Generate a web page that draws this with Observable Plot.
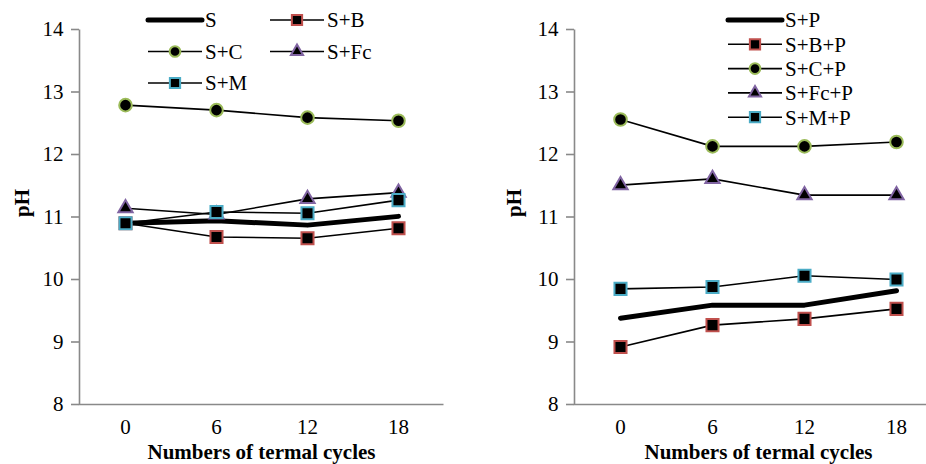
<!DOCTYPE html>
<html>
<head>
<meta charset="utf-8">
<script src="https://cdn.jsdelivr.net/npm/d3@7"></script>
<script src="https://cdn.jsdelivr.net/npm/@observablehq/plot@0.6"></script>
<style>
  html, body { margin: 0; padding: 0; background: #fff; overflow: hidden; }
  #wrap { position: relative; width: 926px; height: 464px; overflow: hidden; background: #fff;
          font-family: 'Liberation Serif', 'Times New Roman', serif; }
  #left, #right { position: absolute; top: 0; }
  #left { left: 0; width: 463px; }
  #right { left: 463px; width: 479px; }
  #wrap svg { max-width: none !important; overflow: visible; font-family: 'Liberation Serif', 'Times New Roman', serif !important; }
  #wrap svg text { font-family: 'Liberation Serif', 'Times New Roman', serif; }
</style>
</head>
<body>
<div id="wrap">
  <div id="left"></div>
  <div id="right"></div>
</div>
<script>
// ---- data ----
const cycles = ["0", "6", "12", "18"];
const yTicks = [8, 9, 10, 11, 12, 13, 14];

const leftNames = ["S", "S+B", "S+C", "S+Fc", "S+M"];
const S    = [10.90, 10.94, 10.87, 11.01];
const S_B  = [10.90, 10.68, 10.66, 10.82];
const S_C  = [12.79, 12.71, 12.59, 12.54];
const S_Fc = [11.14, 11.04, 11.29, 11.39];
const S_M  = [10.90, 11.08, 11.06, 11.27];

const rightNames = ["S+P", "S+B+P", "S+C+P", "S+Fc+P", "S+M+P"];
const S_P    = [9.38, 9.59, 9.59, 9.82];
const S_B_P  = [8.92, 9.27, 9.37, 9.53];
const S_C_P  = [12.56, 12.13, 12.13, 12.20];
const S_Fc_P = [11.51, 11.61, 11.35, 11.35];
const S_M_P  = [9.85, 9.88, 10.06, 10.00];

const xLabel = "Numbers of termal cycles";
const yLabel = "pH";

// ---- styles per series position ----
const markerStroke = [null, "#c0504d", "#9bbb59", "#8064a2", "#4bacc6"];
const markerSymbol = [null, "square", "circle", "triangle", "square"];
const markerR      = [0, 6.8, 6.3, 5.3, 6.8];
const FONT = "'Liberation Serif', 'Times New Roman', serif";
const AXIS_GRAY = "#898989";

function series(names, values) {
  return names.map((name, i) => ({
    name, i,
    rows: cycles.map((c, k) => ({ cycle: c, pH: values[i][k], name }))
  }));
}

function makeChart(names, values, opts) {
  const ser = series(names, values);
  const marks = [
    Plot.frame({ stroke: AXIS_GRAY, strokeWidth: 1.6, strokeDasharray: opts.dash }),
    Plot.axisY({ ticks: yTicks, tickSize: 8, tickPadding: 8, stroke: AXIS_GRAY, strokeWidth: 1.6, tickFormat: d => String(d), label: null, fontSize: 21 }),
    Plot.axisX({ tickSize: 0, tickPadding: 15, label: null, fontSize: 21 }),
    Plot.text([xLabel], { frameAnchor: "bottom", lineAnchor: "middle", dy: 48, fontWeight: "bold", fontSize: 21 }),
    Plot.text([yLabel], { frameAnchor: "left", lineAnchor: "middle", dx: opts.pHdx, rotate: -90, fontWeight: "bold", fontSize: 21 })
  ];
  ser.forEach(s => {
    if (s.i === 0) {
      marks.push(Plot.line(s.rows, { x: "cycle", y: "pH", stroke: "black", strokeWidth: 5, strokeLinecap: "round", strokeLinejoin: "round" }));
    } else {
      marks.push(Plot.line(s.rows, { x: "cycle", y: "pH", stroke: "black", strokeWidth: 1.6 }));
      marks.push(Plot.dot(s.rows, { x: "cycle", y: "pH", symbol: markerSymbol[s.i], r: markerR[s.i], fill: "black", stroke: markerStroke[s.i], strokeWidth: 2 }));
    }
  });
  return Plot.plot({
    width: opts.width,
    height: 464,
    marginLeft: opts.marginLeft,
    marginRight: opts.marginRight,
    marginTop: 29,
    marginBottom: 60,
    style: { fontFamily: FONT, fontSize: "21px", color: "black", background: "white", maxWidth: "none" },
    x: { type: "point", domain: cycles, padding: 0.5, label: null },
    y: { domain: [8, 14], label: null },
    marks
  });
}

function addLegend(container, names, layout) {
  const svg = d3.select(container).append("svg")
    .attr("width", 926).attr("height", 140)
    .style("position", "absolute").style("left", "0px").style("top", "0px")
    .style("font-family", FONT).style("font-size", "21px");
  names.forEach((name, i) => {
    const p = layout(i);
    const g = svg.append("g").attr("transform", `translate(${p.x},${p.y})`);
    if (i === 0) {
      g.append("line").attr("x1", 0).attr("x2", 54).attr("stroke", "black").attr("stroke-width", 5).attr("stroke-linecap", "round");
    } else {
      g.append("line").attr("x1", 0).attr("x2", 54).attr("stroke", "black").attr("stroke-width", 1.6);
      const sym = { square: d3.symbolSquare, circle: d3.symbolCircle, triangle: d3.symbolTriangle }[markerSymbol[i]];
      const r = markerR[i] * 0.85;
      g.append("path").attr("transform", "translate(27,0)")
        .attr("d", d3.symbol(sym, Math.PI * r * r)())
        .attr("fill", "black").attr("stroke", markerStroke[i]).attr("stroke-width", 2);
    }
    g.append("text").attr("x", 57).attr("dy", "0.35em").style("font-family", FONT).text(name);
  });
}

const leftW = 364, plotH = 375;
const left = makeChart(leftNames, [S, S_B, S_C, S_Fc, S_M], {
  width: 463, marginLeft: 79, marginRight: 20, pHdx: -57,
  dash: `0 ${leftW + plotH} ${leftW + plotH}`
});
document.getElementById("left").appendChild(left);

const rightW = 368;
const right = makeChart(rightNames, [S_P, S_B_P, S_C_P, S_Fc_P, S_M_P], {
  width: 479, marginLeft: 111, marginRight: 0, pHdx: -60,
  dash: `0 ${rightW + plotH} ${rightW + plotH}`
});
document.getElementById("right").appendChild(right);

const wrap = document.getElementById("wrap");
addLegend(wrap, leftNames, i => ({ x: i % 2 === 0 ? 148 : 270, y: 20 + Math.floor(i / 2) * 31.5 }));
addLegend(wrap, rightNames, i => ({ x: 728, y: 20 + i * 24.3 }));
</script>
</body>
</html>
